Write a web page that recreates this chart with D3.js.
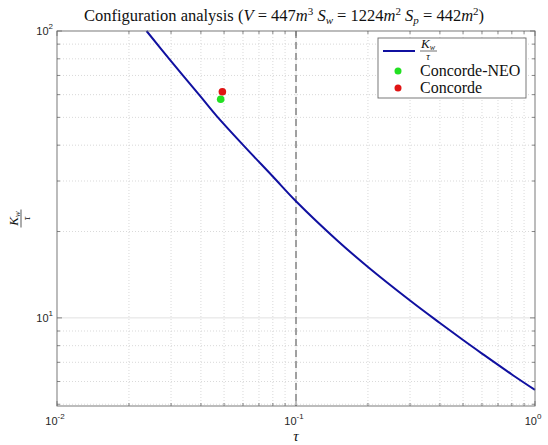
<!DOCTYPE html>
<html>
<head>
<meta charset="utf-8">
<script src="https://cdn.jsdelivr.net/npm/d3@7"></script>
<style>
  body { margin: 0; background: #fff; }
  svg { display: block; }
  .tick-lbl { font-family: "Liberation Sans", Arial, sans-serif; font-size: 11px; fill: #262626; }
  .serif { font-family: "Liberation Serif", "DejaVu Serif", serif; fill: #111; }
</style>
</head>
<body>
<script>
// values
const tau = [0.0237, 0.03, 0.04, 0.0466, 0.06, 0.08, 0.1, 0.15, 0.2, 0.3, 0.4, 0.5, 0.6, 0.8, 1.0]
const kwOverTau = [100, 78.5, 58.9, 50.5, 40.1, 31.1, 25.5, 18.5, 15.05, 11.5, 9.6, 8.37, 7.51, 6.35, 5.61]
const aircraftNames = ['Concorde-NEO', 'Concorde']
const aircraftTau = [0.0484, 0.0492]
const aircraftK = [57.8, 61.4]
const aircraftColors = ['#22e022', '#e01414']
const xTickExp = [-2, -1, 0]
const yTickExp = [1, 2]
const refTau = 0.1

const W = 548, H = 445
const M = { left: 57, right: 535, top: 31, bottom: 406 }
const LINE_COLOR = '#1010a0'

const svg = d3.select('body').append('svg').attr('width', W).attr('height', H)

const x = d3.scaleLog().domain([0.01, 1]).range([M.left, M.right])
const y = d3.scaleLog().domain([4.93, 100]).range([M.bottom, M.top])

// grid
const grid = svg.append('g')
const xMinor = [], yMinor = []
for (let e = -2; e < 0; e++) for (let k = 2; k <= 9; k++) xMinor.push(k * Math.pow(10, e))
for (let e = 0; e < 2; e++) for (let k = 2; k <= 9; k++) {
  const v = k * Math.pow(10, e)
  if (v > 4.93) yMinor.push(v)
}

grid.selectAll('.xminor').data(xMinor).join('line')
  .attr('x1', d => x(d)).attr('x2', d => x(d))
  .attr('y1', M.top).attr('y2', M.bottom)
  .attr('stroke', '#cfcfcf').attr('stroke-width', 0.8).attr('stroke-dasharray', '1,2')
grid.selectAll('.yminor').data(yMinor).join('line')
  .attr('x1', M.left).attr('x2', M.right)
  .attr('y1', d => y(d)).attr('y2', d => y(d))
  .attr('stroke', '#cfcfcf').attr('stroke-width', 0.8).attr('stroke-dasharray', '1,2')
grid.selectAll('.xmajor').data([0.1]).join('line')
  .attr('x1', d => x(d)).attr('x2', d => x(d))
  .attr('y1', M.top).attr('y2', M.bottom)
  .attr('stroke', '#e0e0e0').attr('stroke-width', 0.8)
grid.selectAll('.ymajor').data([10]).join('line')
  .attr('x1', M.left).attr('x2', M.right)
  .attr('y1', d => y(d)).attr('y2', d => y(d))
  .attr('stroke', '#d8d8d8').attr('stroke-width', 0.8)

// reference dashed line
svg.append('line')
  .attr('x1', x(refTau)).attr('x2', x(refTau))
  .attr('y1', M.top).attr('y2', M.bottom)
  .attr('stroke', '#3a3a3a').attr('stroke-width', 0.9).attr('stroke-dasharray', '7,4')

// curve
const pts = tau.map((t, i) => [t, kwOverTau[i]])
svg.append('path')
  .datum(pts)
  .attr('fill', 'none')
  .attr('stroke', LINE_COLOR)
  .attr('stroke-width', 2)
  .attr('d', d3.line().x(d => x(d[0])).y(d => y(d[1])).curve(d3.curveCatmullRom.alpha(0.5)))

// aircraft points
svg.selectAll('.pt').data(aircraftNames).join('circle')
  .attr('cx', (d, i) => x(aircraftTau[i]))
  .attr('cy', (d, i) => y(aircraftK[i]))
  .attr('r', 3.8)
  .attr('fill', (d, i) => aircraftColors[i])

// axes box and ticks
const axisColor = '#6a6a6a'
svg.append('rect')
  .attr('x', M.left).attr('y', M.top)
  .attr('width', M.right - M.left).attr('height', M.bottom - M.top)
  .attr('fill', 'none').attr('stroke', axisColor).attr('stroke-width', 0.9)

const ticks = svg.append('g').attr('stroke', axisColor).attr('stroke-width', 0.8)
const xAll = xTickExp.map(e => Math.pow(10, e))
xAll.concat(xMinor).forEach(v => {
  const len = xAll.includes(v) ? 5 : 3
  ticks.append('line').attr('x1', x(v)).attr('x2', x(v)).attr('y1', M.bottom).attr('y2', M.bottom - len)
  ticks.append('line').attr('x1', x(v)).attr('x2', x(v)).attr('y1', M.top).attr('y2', M.top + len)
})
const yAll = yTickExp.map(e => Math.pow(10, e))
yAll.concat(yMinor).forEach(v => {
  const len = yAll.includes(v) ? 5 : 3
  ticks.append('line').attr('y1', y(v)).attr('y2', y(v)).attr('x1', M.left).attr('x2', M.left + len)
  ticks.append('line').attr('y1', y(v)).attr('y2', y(v)).attr('x1', M.right).attr('x2', M.right - len)
})

// tick labels
function powLabel(g, e, px, py, anchor) {
  const t = g.append('text').attr('class', 'tick-lbl').attr('x', px).attr('y', py).attr('text-anchor', anchor)
  t.append('tspan').text('10')
  t.append('tspan').attr('dy', -6).attr('font-size', '8px').text(e)
}
const lbls = svg.append('g')
xTickExp.forEach(e => powLabel(lbls, e, x(Math.pow(10, e)) - 2, M.bottom + 19, 'middle'))
yTickExp.forEach(e => powLabel(lbls, e, M.left - 4, y(Math.pow(10, e)) + 4, 'end'))

// x label
svg.append('text').attr('class', 'serif')
  .attr('x', x(refTau)).attr('y', 441).attr('text-anchor', 'middle')
  .attr('font-size', '15px').attr('font-style', 'italic').text('τ')

// y label: fraction K_w / tau, rotated
const yl = svg.append('g').attr('transform', `translate(21,${(M.top + M.bottom) / 2}) rotate(-90)`)
const num = yl.append('text').attr('class', 'serif').attr('x', 0).attr('y', -3)
  .attr('text-anchor', 'middle').attr('font-size', '13px')
num.append('tspan').attr('font-style', 'italic').text('K')
num.append('tspan').attr('font-style', 'italic').attr('font-size', '9px').attr('dy', 2).text('w')
yl.append('line').attr('x1', -9).attr('x2', 9).attr('y1', 0).attr('y2', 0).attr('stroke', '#111').attr('stroke-width', 0.7)
yl.append('text').attr('class', 'serif').attr('x', 0).attr('y', 9)
  .attr('text-anchor', 'middle').attr('font-size', '10px').attr('font-style', 'italic').text('τ')

// title
const title = svg.append('text').attr('class', 'serif')
  .attr('x', 284).attr('y', 21).attr('text-anchor', 'middle').attr('font-size', '16.5px')
const parts = [
  ['Configuration analysis (', 'n'], ['V', 'i'], [' = 447', 'n'], ['m', 'i'], ['3', 'sup'],
  [' S', 'i'], ['w', 'sub'], [' = 1224', 'n'], ['m', 'i'], ['2', 'sup'],
  [' S', 'i'], ['p', 'sub'], [' = 442', 'n'], ['m', 'i'], ['2', 'sup'], [')', 'n']
]
let shift = 0
parts.forEach(([txt, kind]) => {
  const ts = title.append('tspan').text(txt)
  let target = 0
  if (kind === 'i') ts.attr('font-style', 'italic')
  if (kind === 'sup') { target = -6; ts.attr('font-size', '11px') }
  if (kind === 'sub') { target = 3; ts.attr('font-size', '11px').attr('font-style', 'italic') }
  ts.attr('dy', target - shift)
  shift = target
})

// legend
const lg = svg.append('g')
lg.append('rect').attr('x', 378).attr('y', 38).attr('width', 148).attr('height', 60)
  .attr('fill', '#fff').attr('stroke', axisColor).attr('stroke-width', 0.9)
lg.append('line').attr('x1', 383).attr('x2', 415).attr('y1', 51).attr('y2', 51)
  .attr('stroke', LINE_COLOR).attr('stroke-width', 2)
const lnum = lg.append('text').attr('class', 'serif').attr('x', 428).attr('y', 48)
  .attr('text-anchor', 'middle').attr('font-size', '13px')
lnum.append('tspan').attr('font-style', 'italic').text('K')
lnum.append('tspan').attr('font-style', 'italic').attr('font-size', '8px').attr('dy', 2).text('w')
lg.append('line').attr('x1', 420).attr('x2', 437).attr('y1', 51).attr('y2', 51).attr('stroke', '#111').attr('stroke-width', 0.6)
lg.append('text').attr('class', 'serif').attr('x', 428).attr('y', 60)
  .attr('text-anchor', 'middle').attr('font-size', '10px').attr('font-style', 'italic').text('τ')
aircraftNames.forEach((name, i) => {
  const ly = 71 + i * 17
  lg.append('circle').attr('cx', 398).attr('cy', ly).attr('r', 3.5).attr('fill', aircraftColors[i])
  lg.append('text').attr('class', 'serif').attr('x', 420).attr('y', ly + 5)
    .attr('font-size', '16px').text(name)
})
</script>
</body>
</html>
